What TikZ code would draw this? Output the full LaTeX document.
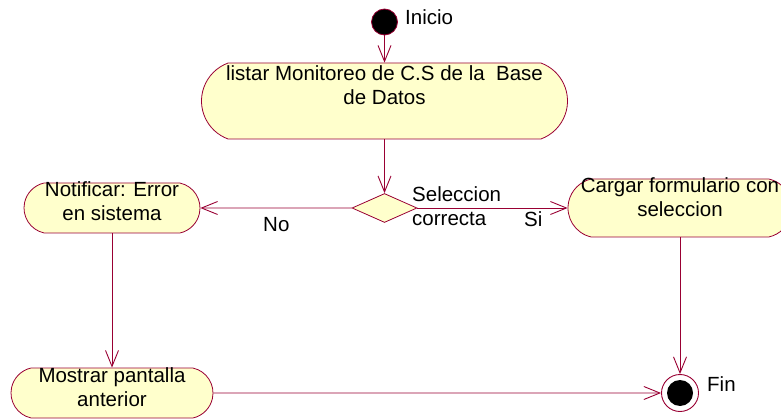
\documentclass[tikz,border=0pt]{standalone}
\usepackage{fontspec}
\setmainfont{Liberation Sans}
\usetikzlibrary{arrows.meta,shapes.geometric,shapes.misc}

\definecolor{umlline}{RGB}{153,0,51}
\definecolor{umlfill}{RGB}{255,255,204}
\newcommand{\acttext}[2]{\makebox[0pt]{\begin{tabular}[t]{@{}c@{}}#1\\#2\end{tabular}}}

\begin{document}
\begin{tikzpicture}[
  x=1pt, y=-1pt,
  txt/.style={font=\fontsize{20.5}{24}\selectfont},
  activity/.style={txt, rounded rectangle, rounded rectangle arc length=155, draw=umlline, fill=umlfill, line width=0.8pt, inner sep=0pt, text height=14pt},
  decision/.style={diamond, draw=umlline, fill=umlfill, line width=0.8pt, inner sep=0pt, minimum width=65pt, minimum height=29pt},
  flow/.style={-{Straight Barb[length=16pt,width=13pt]}, draw=umlline, line width=0.9pt},
  note/.style={txt, inner sep=0pt, anchor=base west}
]
\useasboundingbox (0,0) rectangle (781,419);

% initial and final states
\node[circle, fill=black, draw=umlline, line width=0.8pt, minimum size=26pt, inner sep=0pt] (inicio) at (384.5,22) {};
\node[note] (inicio-lbl) at (405,25) {Inicio};
\node[circle, fill=white, draw=umlline, line width=0.9pt, minimum size=37pt, inner sep=0pt] (fin) at (680,393) {};
\node[circle, fill=black, minimum size=26pt, inner sep=0pt] (fin-core) at (fin.center) {};
\node[note] (fin-lbl) at (707,391) {Fin};

% activities
\node[activity, rounded rectangle arc length=140, minimum width=366pt, text height=18pt, text depth=58pt] (listar) at (384.5,101) {\acttext{listar Monitoreo de C.S de la \ Base}{de Datos}};
\node[decision] (dec) at (384.5,208) {};
\node[activity, minimum width=176pt, text depth=36pt] (notif) at (112,208) {\acttext{Notificar: Error}{en sistema}};
\node[activity, minimum width=224pt, text depth=44pt] (cargar) at (680,208) {\acttext{Cargar formulario con}{seleccion}};
\node[activity, minimum width=202pt, text depth=36pt] (mostrar) at (112,393) {\acttext{Mostrar pantalla}{anterior}};

% guards
\node[note] (sel-lbl) at (412,202) {\begin{tabular}[t]{@{}l@{}}Seleccion\\correcta\end{tabular}};
\node[note] (no-lbl) at (263,232) {No};
\node[note] (si-lbl) at (524,227) {Si};

% transitions
\draw[flow] (inicio) -- (listar);
\draw[flow] (listar) -- (dec);
\draw[flow] (dec) -- (notif);
\draw[flow] (dec) -- (cargar);
\draw[flow] (notif) -- (mostrar);
\draw[flow] (mostrar) -- (fin);
\draw[flow] (cargar) -- (fin);
\end{tikzpicture}
\end{document}
